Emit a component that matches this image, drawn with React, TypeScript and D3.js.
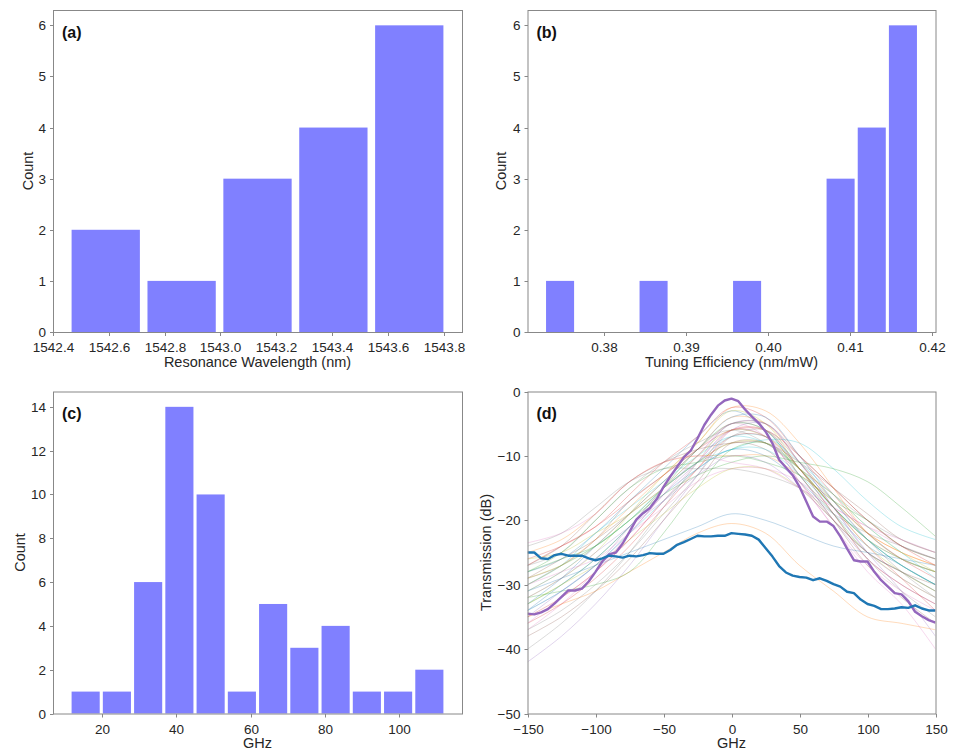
import React from "react";
import * as d3 from "d3";

// (a) resonance wavelength histogram
const wavelengthCounts = [2, 1, 3, 4, 6];
const wavelengthBinStart = 1542.454;
const wavelengthBinWidth = 0.2715;
const wavelengthTicks = [1542.4, 1542.6, 1542.8, 1543.0, 1543.2, 1543.4, 1543.6, 1543.8];

// (b) tuning efficiency histogram
const efficiencyCounts = [1, 0, 0, 1, 0, 0, 1, 0, 0, 3, 4, 6];
const efficiencyBinStart = 0.37275;
const efficiencyBinWidth = 0.0038;
const efficiencyTicks = [0.38, 0.39, 0.4, 0.41, 0.42];

// (c) GHz histogram
const ghzCounts = [1, 1, 6, 14, 10, 1, 5, 3, 4, 1, 1, 2];
const ghzBinStart = 11.42;
const ghzBinWidth = 8.41;
const ghzTicks = [20, 40, 60, 80, 100];

const countTicks6 = [0, 1, 2, 3, 4, 5, 6];
const countTicks14 = [0, 2, 4, 6, 8, 10, 12, 14];

// (d) transmission spectra
const coarseGhz = [-150, -125, -100, -75, -50, -25, 0, 25, 50, 75, 100, 125, 150];
const thinTraces = [
  [-28, -26, -22, -17, -12, -7, -3, -6, -12, -18, -23, -26, -28],
  [-31, -28, -24, -19, -14, -9, -4, -5, -11, -17, -22, -25, -27],
  [-33, -30, -26, -21, -15, -9, -5, -6, -13, -19, -25, -28, -31],
  [-26, -24, -21, -16, -11, -7, -2.5, -4, -10, -16, -22, -26, -29],
  [-35, -31, -27, -22, -16, -11, -6, -7, -13, -20, -26, -30, -33],
  [-29, -27, -23, -17, -13, -9, -5, -5, -10, -15, -20, -24, -26],
  [-37, -33, -28, -23, -17, -11, -6, -7, -14, -21, -27, -31, -34],
  [-27, -25, -20, -15, -11, -8, -6, -8, -12, -16, -20, -23, -25],
  [-32, -29, -25, -19, -13, -8, -3, -5, -12, -18, -24, -28, -31],
  [-30, -27, -22, -18, -14, -10, -7, -8, -12, -17, -22, -26, -28],
  [-34, -30, -26, -21, -16, -12, -9, -10, -14, -19, -24, -27, -30],
  [-25, -23, -19, -14, -11, -10, -10, -10, -13, -17, -22, -25, -27],
  [-28, -25, -20, -15, -12, -11, -10, -11, -13, -17, -20, -24, -26],
  [-36, -33, -29, -24, -18, -12, -6, -6, -12, -19, -26, -30, -33],
  [-42, -38, -33, -27, -20, -13, -6, -5, -11, -18, -25, -31, -38],
  [-38, -35, -31, -26, -20, -14, -8, -8, -13, -20, -27, -32, -36],
  [-30, -28, -26, -22, -18, -14, -12, -12, -14, -18, -21, -24, -26],
  [-24, -22, -18, -14, -12, -12, -12, -13, -15, -19, -22, -24, -26],
  [-33, -30, -27, -23, -19, -15, -12, -12, -15, -20, -25, -29, -32],
  [-30, -27, -24, -20, -15, -11, -9, -7.5, -8, -12, -17, -21, -23],
  [-31, -29, -27, -25, -23, -21, -19, -20, -22, -24, -25, -26, -27],
  [-35, -33, -31, -28, -25, -22, -20.5, -22, -27, -31, -35, -36, -37],
  [-32, -31, -30, -28, -22, -15, -9, -8, -12, -18, -23, -27, -30],
  [-27, -24, -21, -17, -13, -9, -6, -6, -10, -15, -20, -24, -27],
  [-34, -31, -27, -21, -15, -10, -5, -5, -11, -18, -25, -29, -32],
  [-29, -26, -23, -19, -15, -11, -8, -9, -14, -20, -25, -28, -30],
  [-36, -32, -28, -22, -16, -10, -5, -7, -14, -21, -28, -33, -40],
  [-40, -36, -31, -25, -18, -11, -5, -6, -12, -19, -26, -31, -35],
  [-26, -25, -22, -19, -15, -11, -8, -8, -12, -16, -21, -25, -28],
  [-31, -28, -24, -20, -15, -11, -7, -7, -11, -16, -21, -25, -29],
  [-33, -29, -24, -19, -14, -9, -4, -4, -10, -17, -23, -27, -30],
  [-30, -27, -23, -18, -13, -8, -2.5, -3, -8, -15, -22, -26, -28],
  [-28, -26, -24, -20, -16, -13, -11, -10, -11, -12, -14, -18, -22.5],
  [-35, -32, -28, -23, -17, -12, -7, -7, -12, -18, -24, -29, -34],
  [-32, -29, -25, -21, -17, -13, -10, -11, -15, -20, -25, -28, -31],
  [-27, -24, -19, -14, -11, -9, -8, -8, -11, -15, -19, -23, -25],
  [-23.5, -22, -19, -14, -11, -10, -11, -12, -15, -18, -21, -23, -25],
  [-37, -34, -30, -25, -19, -13, -7, -6, -11, -17, -23, -28, -32],
  [-29, -27, -24, -20, -15, -10, -6, -7, -12, -18, -23, -26, -28],
  [-34, -31, -27, -22, -17, -12, -9, -9, -13, -18, -23, -27, -30],
];

const fineGhz = d3.range(-150, 151, 5);
const purpleTrace = [
  -34.5, -34.6, -34.3, -33.8, -32.9, -31.9, -30.9, -30.9, -30.6, -29.5,
  -28.0, -26.4, -25.3, -25.0, -23.6, -21.8, -19.9, -18.9, -18.1, -16.7,
  -14.8, -13.2, -11.7, -10.2, -9.2, -7.3, -5.2, -3.6, -2.2, -1.4,
  -1.1, -1.5, -2.8, -3.9, -4.9, -6.2, -8.0, -10.6, -11.8, -13.0,
  -14.8, -17.1, -19.4, -20.2, -20.2, -20.9, -22.5, -24.4, -26.2, -26.4,
  -26.4, -28.0, -29.3, -30.3, -31.3, -31.5, -32.6, -34.2, -34.9, -35.5,
  -35.9,
];
const blueTrace = [
  -25.0, -25.0, -25.9, -26.0, -25.4, -25.2, -25.5, -25.5, -25.5, -25.9,
  -26.2, -25.9, -25.5, -25.6, -25.8, -25.5, -25.6, -25.4, -25.1, -25.2,
  -25.2, -24.6, -23.8, -23.4, -22.9, -22.4, -22.5, -22.5, -22.4, -22.4,
  -22.0, -22.1, -22.2, -22.4, -23.0, -24.3, -25.6, -27.1, -28.1, -28.6,
  -28.8, -28.9, -29.3, -29.0, -29.4, -29.9, -30.3, -31.1, -31.3, -32.3,
  -33.0, -33.3, -33.8, -33.8, -33.7, -33.5, -33.6, -33.2, -33.7, -34.0,
  -34.0,
];
const ghzAxisTicks = [-150, -100, -50, 0, 50, 100, 150];
const dbTicks = [0, -10, -20, -30, -40, -50];

const FONT = "'Liberation Sans', Arial, Helvetica, sans-serif";
const SPINE = "#888888";
const TEXT = "#262626";
const BAR = "#8080ff";

type Box = { x: number; y: number; w: number; h: number };

function Frame({ box, x, y, xTicks, yTicks, xFmt, yFmt, xLabel, yLabel, yLabelGap, tag }: any) {
  const bottom = box.y + box.h;
  return (
    <g fontFamily={FONT}>
      <rect x={box.x + 0.5} y={box.y + 0.5} width={box.w} height={box.h} fill="none" stroke={SPINE} strokeWidth={1} />
      {xTicks.map((t: number) => {
        const px = Math.round(x(t)) + 0.5;
        return (
          <g key={"x" + t}>
            <line x1={px} x2={px} y1={bottom + 0.5} y2={bottom + 4} stroke={SPINE} />
            <text x={px} y={bottom + 20} fontSize={13.5} textAnchor="middle" fill={TEXT}>
              {xFmt(t)}
            </text>
          </g>
        );
      })}
      {yTicks.map((t: number) => {
        const py = Math.round(y(t)) + 0.5;
        return (
          <g key={"y" + t}>
            <line x1={box.x + 0.5} x2={box.x - 3} y1={py} y2={py} stroke={SPINE} />
            <text x={box.x - 7} y={py + 4.8} fontSize={13.5} textAnchor="end" fill={TEXT}>
              {yFmt(t)}
            </text>
          </g>
        );
      })}
      <text x={box.x + box.w / 2} y={bottom + 34.5} fontSize={14.5} textAnchor="middle" fill={TEXT}>
        {xLabel}
      </text>
      <text
        transform={`translate(${box.x - yLabelGap},${box.y + box.h / 2}) rotate(-90)`}
        fontSize={14.5}
        textAnchor="middle"
        fill={TEXT}
      >
        {yLabel}
      </text>
      <text x={box.x + 9} y={box.y + 27.5} fontSize={16} fontWeight="bold" fill="#111">
        {tag}
      </text>
    </g>
  );
}

function Histogram({ box, counts, binStart, binWidth, xTicks, xFmt, yTicks, xLabel, yLabelGap, tag }: any) {
  const n = counts.length;
  const barLo = binStart + 0.05 * binWidth;
  const barHi = binStart + (n - 0.05) * binWidth;
  const pad = 0.05 * (barHi - barLo);
  const x = d3.scaleLinear().domain([barLo - pad, barHi + pad]).range([box.x, box.x + box.w]);
  const y = d3.scaleLinear().domain([0, (d3.max(counts) as number) * 1.05]).range([box.y + box.h, box.y]);
  return (
    <g>
      {counts.map((c: number, i: number) =>
        c > 0 ? (
          <rect
            key={i}
            x={x(binStart + (i + 0.05) * binWidth)}
            width={x(binStart + (i + 0.95) * binWidth) - x(binStart + (i + 0.05) * binWidth)}
            y={y(c)}
            height={y(0) - y(c)}
            fill={BAR}
          />
        ) : null
      )}
      <Frame
        box={box}
        x={x}
        y={y}
        xTicks={xTicks}
        yTicks={yTicks}
        xFmt={xFmt}
        yFmt={d3.format("d")}
        xLabel={xLabel}
        yLabel="Count"
        yLabelGap={yLabelGap}
        tag={tag}
      />
    </g>
  );
}

function Spectra({ box }: { box: Box }) {
  const x = d3.scaleLinear().domain([-150, 150]).range([box.x, box.x + box.w]);
  const y = d3.scaleLinear().domain([-50, 0]).range([box.y + box.h, box.y]);
  const smooth = d3
    .line<number>()
    .x((_, i) => x(coarseGhz[i]))
    .y((d) => y(d))
    .curve(d3.curveCatmullRom.alpha(0.5));
  const sharp = d3
    .line<number>()
    .x((_, i) => x(fineGhz[i]))
    .y((d) => y(d));
  const colors = d3.schemeCategory10;
  return (
    <g>
      <defs>
        <clipPath id="clip-d">
          <rect x={box.x} y={box.y} width={box.w} height={box.h} />
        </clipPath>
      </defs>
      <g clipPath="url(#clip-d)" fill="none">
        {thinTraces.map((tr, i) => (
          <path key={i} d={smooth(tr) as string} stroke={colors[i % 10]} strokeOpacity={0.28} strokeWidth={1} />
        ))}
        <path d={sharp(purpleTrace) as string} stroke="#9467bd" strokeWidth={2.4} strokeLinejoin="round" />
        <path d={sharp(blueTrace) as string} stroke="#1f77b4" strokeWidth={2.4} strokeLinejoin="round" />
      </g>
      <Frame
        box={box}
        x={x}
        y={y}
        xTicks={ghzAxisTicks}
        yTicks={dbTicks}
        xFmt={d3.format("d")}
        yFmt={d3.format("d")}
        xLabel="GHz"
        yLabel="Transmission (dB)"
        yLabelGap={37}
        tag="(d)"
      />
    </g>
  );
}

export default function App() {
  const boxA: Box = { x: 53, y: 10, w: 409, h: 322 };
  const boxB: Box = { x: 527.5, y: 10, w: 408, h: 322 };
  const boxC: Box = { x: 53, y: 391.5, w: 409, h: 322 };
  const boxD: Box = { x: 527.5, y: 391.5, w: 408, h: 322 };
  return (
    <svg width={955} height={751} style={{ position: "absolute", left: 0, top: 0, background: "#fff" }}>
      <Histogram
        box={boxA}
        counts={wavelengthCounts}
        binStart={wavelengthBinStart}
        binWidth={wavelengthBinWidth}
        xTicks={wavelengthTicks}
        xFmt={d3.format(".1f")}
        yTicks={countTicks6}
        xLabel="Resonance Wavelength (nm)"
        yLabelGap={20}
        tag="(a)"
      />
      <Histogram
        box={boxB}
        counts={efficiencyCounts}
        binStart={efficiencyBinStart}
        binWidth={efficiencyBinWidth}
        xTicks={efficiencyTicks}
        xFmt={d3.format(".2f")}
        yTicks={countTicks6}
        xLabel="Tuning Efficiency (nm/mW)"
        yLabelGap={21.5}
        tag="(b)"
      />
      <Histogram
        box={boxC}
        counts={ghzCounts}
        binStart={ghzBinStart}
        binWidth={ghzBinWidth}
        xTicks={ghzTicks}
        xFmt={d3.format("d")}
        yTicks={countTicks14}
        xLabel="GHz"
        yLabelGap={28}
        tag="(c)"
      />
      <Spectra box={boxD} />
    </svg>
  );
}
